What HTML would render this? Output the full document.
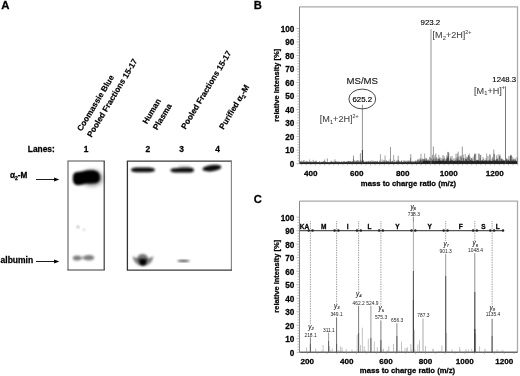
<!DOCTYPE html>
<html><head><meta charset="utf-8"><style>
html,body{margin:0;padding:0;background:#fff;width:520px;height:376px;overflow:hidden}
svg{display:block;font-family:"Liberation Sans", sans-serif;-webkit-font-smoothing:antialiased;will-change:transform}
text{stroke-width:0.08px;paint-order:stroke}
text[font-weight=bold]{stroke-width:0.26px}
</style></head><body>
<svg width="520" height="376" viewBox="0 0 520 376">
<rect width="520" height="376" fill="#fff"/>
<text x="1.30" y="8.80" font-size="11.4" font-weight="bold" text-anchor="start" fill="#000" stroke="#000" >A</text>
<text x="253.80" y="8.90" font-size="11.2" font-weight="bold" text-anchor="start" fill="#000" stroke="#000" >B</text>
<text x="253.70" y="203.00" font-size="11.2" font-weight="bold" text-anchor="start" fill="#000" stroke="#000" >C</text>
<text stroke="#000" style="stroke-width:0.18px" transform="translate(81.50,131.80) rotate(-59)" font-size="8.2" font-weight="bold">Coomassie Blue</text>
<text stroke="#000" style="stroke-width:0.18px" transform="translate(91.50,137.80) rotate(-59)" font-size="8.2" font-weight="bold">Pooled Fractions 15-17</text>
<text stroke="#000" style="stroke-width:0.18px" transform="translate(147.00,124.60) rotate(-59)" font-size="8.2" font-weight="bold">Human</text>
<text stroke="#000" style="stroke-width:0.18px" transform="translate(157.30,130.40) rotate(-59)" font-size="8.2" font-weight="bold">Plasma</text>
<text stroke="#000" style="stroke-width:0.18px" transform="translate(185.50,129.80) rotate(-59)" font-size="8.2" font-weight="bold">Pooled Fractions 15-17</text>
<text stroke="#000" style="stroke-width:0.18px" transform="translate(223.60,130.00) rotate(-59)" font-size="8.2" font-weight="bold">Purified &#945;<tspan font-size="5.5" dy="2">2</tspan><tspan dy="-2">-M</tspan></text>
<text x="27.80" y="151.60" font-size="8.4" font-weight="bold" text-anchor="start" fill="#000" stroke="#000" >Lanes:</text>
<text x="86.00" y="151.60" font-size="8.4" font-weight="bold" text-anchor="middle" fill="#000" stroke="#000" >1</text>
<text x="147.90" y="151.60" font-size="8.4" font-weight="bold" text-anchor="middle" fill="#000" stroke="#000" >2</text>
<text x="181.60" y="151.60" font-size="8.4" font-weight="bold" text-anchor="middle" fill="#000" stroke="#000" >3</text>
<text x="217.70" y="151.60" font-size="8.4" font-weight="bold" text-anchor="middle" fill="#000" stroke="#000" >4</text>
<text stroke="#000" x="10" y="178.4" font-size="8.2" font-weight="bold">&#945;<tspan font-size="5" dy="2">2</tspan><tspan dy="-2">-M</tspan></text>
<text x="0.60" y="263.40" font-size="8.5" font-weight="bold" text-anchor="start" fill="#000" stroke="#000" >albumin</text>
<line x1="36" y1="179.5" x2="55.8" y2="179.5" stroke="#111" stroke-width="0.95"/>
<path d="M54.099999999999994,177.4 L59.3,179.5 L54.099999999999994,181.6 Z" fill="#000"/>
<line x1="36" y1="261.5" x2="55.8" y2="261.5" stroke="#111" stroke-width="0.95"/>
<path d="M54.099999999999994,259.4 L59.3,261.5 L54.099999999999994,263.6 Z" fill="#000"/>
<line x1="67.4" y1="161.0" x2="104.8" y2="161.0" stroke="#888" stroke-width="1.3"/>
<line x1="68.0" y1="161.0" x2="68.0" y2="270.0" stroke="#777" stroke-width="1.3"/>
<line x1="104.2" y1="161.0" x2="104.2" y2="270.0" stroke="#3a3a3a" stroke-width="1.2"/>
<line x1="67.4" y1="270.0" x2="104.8" y2="270.0" stroke="#3a3a3a" stroke-width="1.2"/>
<line x1="126.80000000000001" y1="161.2" x2="232.0" y2="161.2" stroke="#3a3a3a" stroke-width="1.3"/>
<line x1="127.4" y1="161.2" x2="127.4" y2="270.1" stroke="#333" stroke-width="1.3"/>
<line x1="231.4" y1="161.2" x2="231.4" y2="270.1" stroke="#888" stroke-width="1.2"/>
<line x1="126.80000000000001" y1="270.1" x2="232.0" y2="270.1" stroke="#3a3a3a" stroke-width="1.2"/>
<defs>
<filter id="b1" x="-50%" y="-50%" width="200%" height="200%"><feGaussianBlur stdDeviation="1.1"/></filter>
<filter id="b2" x="-50%" y="-50%" width="200%" height="200%"><feGaussianBlur stdDeviation="0.8"/></filter>
<filter id="b3" x="-50%" y="-50%" width="200%" height="200%"><feGaussianBlur stdDeviation="1.3"/></filter>
<filter id="b4" x="-50%" y="-50%" width="200%" height="200%"><feGaussianBlur stdDeviation="2.5"/></filter>
<filter id="b5" x="-50%" y="-50%" width="200%" height="200%"><feGaussianBlur stdDeviation="1.1"/></filter>
</defs>
<g filter="url(#b4)" opacity="0.55"><ellipse cx="92" cy="178" rx="10.5" ry="7.5" fill="#000"/></g>
<g filter="url(#b1)"><path d="M72.8,179 C72.6,175 73.8,172.6 76,172.3 C80,171.9 83.5,171.2 86.5,170.6 C90.5,169.9 94.5,170 97.2,171.6 C99.6,173.2 100.2,176.5 99.8,179 C99.4,181.8 97.5,183 95,183.2 C91.5,183.4 88.5,183.3 86.5,183.6 C83.5,184 81,185.3 78,185.2 C74.5,185 72.9,182.8 72.8,179 Z" fill="#000"/></g>
<g filter="url(#b2)"><circle cx="78" cy="227.1" r="1" fill="#777"/><circle cx="84.1" cy="229.7" r="1" fill="#bbb"/></g>
<g filter="url(#b3)" opacity="0.5"><ellipse cx="77" cy="258" rx="4.2" ry="2.6" fill="#000"/><ellipse cx="88.8" cy="257.7" rx="5.5" ry="2.8" fill="#000"/><rect x="78" y="256.5" width="10" height="2.8" fill="#000" opacity="0.6"/></g>
<g filter="url(#b2)"><path d="M131,170 C131,167.9 135,167.5 142.5,167.6 C150,167.5 155,167.9 155,170 C155,172.1 150,172.3 142.5,172.2 C135,172.3 131,172.1 131,170 Z" fill="#0a0a0a"/><path d="M170.5,170.3 C170.5,168.6 173,168.4 176,168.3 C178,167.6 182,167.4 188,167.5 C192,167.5 194,168.3 194,170 C194,172 192,172.6 188,172.6 L176,172.5 C173,172.4 170.5,172 170.5,170.3 Z" fill="#0a0a0a"/><ellipse cx="211.9" cy="168.1" rx="9.6" ry="3.1" transform="rotate(-7 211.9 168.1)" fill="#0a0a0a"/></g>
<g filter="url(#b3)" opacity="0.15"><rect x="178" y="165" width="12" height="1.6" fill="#000"/></g>
<g filter="url(#b3)"><path d="M132.6,256.2 Q133.8,265.6 143,265.8 Q152.2,265.6 153.4,256.2 Q148,259.5 143,259 Q138,259.5 132.6,256.2 Z" fill="#000" opacity="0.5"/><ellipse cx="142.6" cy="258.6" rx="5.2" ry="4.6" fill="#000" opacity="0.55"/></g>
<g filter="url(#b5)"><ellipse cx="142.9" cy="262.2" rx="3.3" ry="3.2" fill="#000"/></g>
<g filter="url(#b2)"><ellipse cx="183.5" cy="260.9" rx="6.2" ry="0.8" fill="#222"/></g>
<path d="M299.5,6.8 H517.5 V163.6" fill="none" stroke="#aaa" stroke-width="1.3"/>
<line x1="299.5" y1="6.8" x2="299.5" y2="163.6" stroke="#888" stroke-width="1"/>
<line x1="299.5" y1="163.6" x2="517.5" y2="163.6" stroke="#444" stroke-width="1"/>
<line x1="296.5" y1="163.60" x2="299.5" y2="163.60" stroke="#999" stroke-width="0.7"/>
<line x1="297.5" y1="160.90" x2="299.5" y2="160.90" stroke="#999" stroke-width="0.7"/>
<line x1="297.5" y1="158.20" x2="299.5" y2="158.20" stroke="#999" stroke-width="0.7"/>
<line x1="297.5" y1="155.49" x2="299.5" y2="155.49" stroke="#999" stroke-width="0.7"/>
<line x1="297.5" y1="152.79" x2="299.5" y2="152.79" stroke="#999" stroke-width="0.7"/>
<line x1="296.5" y1="150.09" x2="299.5" y2="150.09" stroke="#999" stroke-width="0.7"/>
<line x1="297.5" y1="147.39" x2="299.5" y2="147.39" stroke="#999" stroke-width="0.7"/>
<line x1="297.5" y1="144.69" x2="299.5" y2="144.69" stroke="#999" stroke-width="0.7"/>
<line x1="297.5" y1="141.98" x2="299.5" y2="141.98" stroke="#999" stroke-width="0.7"/>
<line x1="297.5" y1="139.28" x2="299.5" y2="139.28" stroke="#999" stroke-width="0.7"/>
<line x1="296.5" y1="136.58" x2="299.5" y2="136.58" stroke="#999" stroke-width="0.7"/>
<line x1="297.5" y1="133.88" x2="299.5" y2="133.88" stroke="#999" stroke-width="0.7"/>
<line x1="297.5" y1="131.18" x2="299.5" y2="131.18" stroke="#999" stroke-width="0.7"/>
<line x1="297.5" y1="128.47" x2="299.5" y2="128.47" stroke="#999" stroke-width="0.7"/>
<line x1="297.5" y1="125.77" x2="299.5" y2="125.77" stroke="#999" stroke-width="0.7"/>
<line x1="296.5" y1="123.07" x2="299.5" y2="123.07" stroke="#999" stroke-width="0.7"/>
<line x1="297.5" y1="120.37" x2="299.5" y2="120.37" stroke="#999" stroke-width="0.7"/>
<line x1="297.5" y1="117.67" x2="299.5" y2="117.67" stroke="#999" stroke-width="0.7"/>
<line x1="297.5" y1="114.96" x2="299.5" y2="114.96" stroke="#999" stroke-width="0.7"/>
<line x1="297.5" y1="112.26" x2="299.5" y2="112.26" stroke="#999" stroke-width="0.7"/>
<line x1="296.5" y1="109.56" x2="299.5" y2="109.56" stroke="#999" stroke-width="0.7"/>
<line x1="297.5" y1="106.86" x2="299.5" y2="106.86" stroke="#999" stroke-width="0.7"/>
<line x1="297.5" y1="104.16" x2="299.5" y2="104.16" stroke="#999" stroke-width="0.7"/>
<line x1="297.5" y1="101.45" x2="299.5" y2="101.45" stroke="#999" stroke-width="0.7"/>
<line x1="297.5" y1="98.75" x2="299.5" y2="98.75" stroke="#999" stroke-width="0.7"/>
<line x1="296.5" y1="96.05" x2="299.5" y2="96.05" stroke="#999" stroke-width="0.7"/>
<line x1="297.5" y1="93.35" x2="299.5" y2="93.35" stroke="#999" stroke-width="0.7"/>
<line x1="297.5" y1="90.65" x2="299.5" y2="90.65" stroke="#999" stroke-width="0.7"/>
<line x1="297.5" y1="87.94" x2="299.5" y2="87.94" stroke="#999" stroke-width="0.7"/>
<line x1="297.5" y1="85.24" x2="299.5" y2="85.24" stroke="#999" stroke-width="0.7"/>
<line x1="296.5" y1="82.54" x2="299.5" y2="82.54" stroke="#999" stroke-width="0.7"/>
<line x1="297.5" y1="79.84" x2="299.5" y2="79.84" stroke="#999" stroke-width="0.7"/>
<line x1="297.5" y1="77.14" x2="299.5" y2="77.14" stroke="#999" stroke-width="0.7"/>
<line x1="297.5" y1="74.43" x2="299.5" y2="74.43" stroke="#999" stroke-width="0.7"/>
<line x1="297.5" y1="71.73" x2="299.5" y2="71.73" stroke="#999" stroke-width="0.7"/>
<line x1="296.5" y1="69.03" x2="299.5" y2="69.03" stroke="#999" stroke-width="0.7"/>
<line x1="297.5" y1="66.33" x2="299.5" y2="66.33" stroke="#999" stroke-width="0.7"/>
<line x1="297.5" y1="63.63" x2="299.5" y2="63.63" stroke="#999" stroke-width="0.7"/>
<line x1="297.5" y1="60.92" x2="299.5" y2="60.92" stroke="#999" stroke-width="0.7"/>
<line x1="297.5" y1="58.22" x2="299.5" y2="58.22" stroke="#999" stroke-width="0.7"/>
<line x1="296.5" y1="55.52" x2="299.5" y2="55.52" stroke="#999" stroke-width="0.7"/>
<line x1="297.5" y1="52.82" x2="299.5" y2="52.82" stroke="#999" stroke-width="0.7"/>
<line x1="297.5" y1="50.12" x2="299.5" y2="50.12" stroke="#999" stroke-width="0.7"/>
<line x1="297.5" y1="47.41" x2="299.5" y2="47.41" stroke="#999" stroke-width="0.7"/>
<line x1="297.5" y1="44.71" x2="299.5" y2="44.71" stroke="#999" stroke-width="0.7"/>
<line x1="296.5" y1="42.01" x2="299.5" y2="42.01" stroke="#999" stroke-width="0.7"/>
<line x1="297.5" y1="39.31" x2="299.5" y2="39.31" stroke="#999" stroke-width="0.7"/>
<line x1="297.5" y1="36.61" x2="299.5" y2="36.61" stroke="#999" stroke-width="0.7"/>
<line x1="297.5" y1="33.90" x2="299.5" y2="33.90" stroke="#999" stroke-width="0.7"/>
<line x1="297.5" y1="31.20" x2="299.5" y2="31.20" stroke="#999" stroke-width="0.7"/>
<line x1="296.5" y1="28.50" x2="299.5" y2="28.50" stroke="#999" stroke-width="0.7"/>
<text x="294.40" y="166.90" font-size="8.2" font-weight="bold" text-anchor="end" fill="#000" stroke="#000" >0</text>
<text x="294.40" y="153.39" font-size="8.2" font-weight="bold" text-anchor="end" fill="#000" stroke="#000" >10</text>
<text x="294.40" y="139.88" font-size="8.2" font-weight="bold" text-anchor="end" fill="#000" stroke="#000" >20</text>
<text x="294.40" y="126.37" font-size="8.2" font-weight="bold" text-anchor="end" fill="#000" stroke="#000" >30</text>
<text x="294.40" y="112.86" font-size="8.2" font-weight="bold" text-anchor="end" fill="#000" stroke="#000" >40</text>
<text x="294.40" y="99.35" font-size="8.2" font-weight="bold" text-anchor="end" fill="#000" stroke="#000" >50</text>
<text x="294.40" y="85.84" font-size="8.2" font-weight="bold" text-anchor="end" fill="#000" stroke="#000" >60</text>
<text x="294.40" y="72.33" font-size="8.2" font-weight="bold" text-anchor="end" fill="#000" stroke="#000" >70</text>
<text x="294.40" y="58.82" font-size="8.2" font-weight="bold" text-anchor="end" fill="#000" stroke="#000" >80</text>
<text x="294.40" y="45.31" font-size="8.2" font-weight="bold" text-anchor="end" fill="#000" stroke="#000" >90</text>
<text x="294.40" y="31.80" font-size="8.2" font-weight="bold" text-anchor="end" fill="#000" stroke="#000" >100</text>
<line x1="301.60" y1="163.6" x2="301.60" y2="165.4" stroke="#999" stroke-width="0.6"/>
<line x1="306.20" y1="163.6" x2="306.20" y2="165.4" stroke="#999" stroke-width="0.6"/>
<line x1="310.80" y1="163.6" x2="310.80" y2="165.4" stroke="#999" stroke-width="0.6"/>
<line x1="315.40" y1="163.6" x2="315.40" y2="165.4" stroke="#999" stroke-width="0.6"/>
<line x1="320.00" y1="163.6" x2="320.00" y2="165.4" stroke="#999" stroke-width="0.6"/>
<line x1="324.59" y1="163.6" x2="324.59" y2="165.4" stroke="#999" stroke-width="0.6"/>
<line x1="329.19" y1="163.6" x2="329.19" y2="165.4" stroke="#999" stroke-width="0.6"/>
<line x1="333.79" y1="163.6" x2="333.79" y2="165.4" stroke="#999" stroke-width="0.6"/>
<line x1="338.39" y1="163.6" x2="338.39" y2="165.4" stroke="#999" stroke-width="0.6"/>
<line x1="342.99" y1="163.6" x2="342.99" y2="165.4" stroke="#999" stroke-width="0.6"/>
<line x1="347.58" y1="163.6" x2="347.58" y2="165.4" stroke="#999" stroke-width="0.6"/>
<line x1="352.18" y1="163.6" x2="352.18" y2="165.4" stroke="#999" stroke-width="0.6"/>
<line x1="356.78" y1="163.6" x2="356.78" y2="165.4" stroke="#999" stroke-width="0.6"/>
<line x1="361.38" y1="163.6" x2="361.38" y2="165.4" stroke="#999" stroke-width="0.6"/>
<line x1="365.98" y1="163.6" x2="365.98" y2="165.4" stroke="#999" stroke-width="0.6"/>
<line x1="370.57" y1="163.6" x2="370.57" y2="165.4" stroke="#999" stroke-width="0.6"/>
<line x1="375.17" y1="163.6" x2="375.17" y2="165.4" stroke="#999" stroke-width="0.6"/>
<line x1="379.77" y1="163.6" x2="379.77" y2="165.4" stroke="#999" stroke-width="0.6"/>
<line x1="384.37" y1="163.6" x2="384.37" y2="165.4" stroke="#999" stroke-width="0.6"/>
<line x1="388.97" y1="163.6" x2="388.97" y2="165.4" stroke="#999" stroke-width="0.6"/>
<line x1="393.56" y1="163.6" x2="393.56" y2="165.4" stroke="#999" stroke-width="0.6"/>
<line x1="398.16" y1="163.6" x2="398.16" y2="165.4" stroke="#999" stroke-width="0.6"/>
<line x1="402.76" y1="163.6" x2="402.76" y2="165.4" stroke="#999" stroke-width="0.6"/>
<line x1="407.36" y1="163.6" x2="407.36" y2="165.4" stroke="#999" stroke-width="0.6"/>
<line x1="411.96" y1="163.6" x2="411.96" y2="165.4" stroke="#999" stroke-width="0.6"/>
<line x1="416.55" y1="163.6" x2="416.55" y2="165.4" stroke="#999" stroke-width="0.6"/>
<line x1="421.15" y1="163.6" x2="421.15" y2="165.4" stroke="#999" stroke-width="0.6"/>
<line x1="425.75" y1="163.6" x2="425.75" y2="165.4" stroke="#999" stroke-width="0.6"/>
<line x1="430.35" y1="163.6" x2="430.35" y2="165.4" stroke="#999" stroke-width="0.6"/>
<line x1="434.95" y1="163.6" x2="434.95" y2="165.4" stroke="#999" stroke-width="0.6"/>
<line x1="439.54" y1="163.6" x2="439.54" y2="165.4" stroke="#999" stroke-width="0.6"/>
<line x1="444.14" y1="163.6" x2="444.14" y2="165.4" stroke="#999" stroke-width="0.6"/>
<line x1="448.74" y1="163.6" x2="448.74" y2="165.4" stroke="#999" stroke-width="0.6"/>
<line x1="453.34" y1="163.6" x2="453.34" y2="165.4" stroke="#999" stroke-width="0.6"/>
<line x1="457.94" y1="163.6" x2="457.94" y2="165.4" stroke="#999" stroke-width="0.6"/>
<line x1="462.53" y1="163.6" x2="462.53" y2="165.4" stroke="#999" stroke-width="0.6"/>
<line x1="467.13" y1="163.6" x2="467.13" y2="165.4" stroke="#999" stroke-width="0.6"/>
<line x1="471.73" y1="163.6" x2="471.73" y2="165.4" stroke="#999" stroke-width="0.6"/>
<line x1="476.33" y1="163.6" x2="476.33" y2="165.4" stroke="#999" stroke-width="0.6"/>
<line x1="480.93" y1="163.6" x2="480.93" y2="165.4" stroke="#999" stroke-width="0.6"/>
<line x1="485.52" y1="163.6" x2="485.52" y2="165.4" stroke="#999" stroke-width="0.6"/>
<line x1="490.12" y1="163.6" x2="490.12" y2="165.4" stroke="#999" stroke-width="0.6"/>
<line x1="494.72" y1="163.6" x2="494.72" y2="165.4" stroke="#999" stroke-width="0.6"/>
<line x1="499.32" y1="163.6" x2="499.32" y2="165.4" stroke="#999" stroke-width="0.6"/>
<line x1="503.92" y1="163.6" x2="503.92" y2="165.4" stroke="#999" stroke-width="0.6"/>
<line x1="508.51" y1="163.6" x2="508.51" y2="165.4" stroke="#999" stroke-width="0.6"/>
<line x1="513.11" y1="163.6" x2="513.11" y2="165.4" stroke="#999" stroke-width="0.6"/>
<line x1="517.71" y1="163.6" x2="517.71" y2="165.4" stroke="#999" stroke-width="0.6"/>
<text x="310.80" y="176.10" font-size="8.1" font-weight="bold" text-anchor="middle" fill="#000" stroke="#000" >400</text>
<text x="356.78" y="176.10" font-size="8.1" font-weight="bold" text-anchor="middle" fill="#000" stroke="#000" >600</text>
<text x="402.76" y="176.10" font-size="8.1" font-weight="bold" text-anchor="middle" fill="#000" stroke="#000" >800</text>
<text x="448.74" y="176.10" font-size="8.1" font-weight="bold" text-anchor="middle" fill="#000" stroke="#000" >1000</text>
<text x="494.72" y="176.10" font-size="8.1" font-weight="bold" text-anchor="middle" fill="#000" stroke="#000" >1200</text>
<text x="408.50" y="185.50" font-size="7.7" font-weight="bold" text-anchor="middle" fill="#000" stroke="#000" >mass to charge ratio (m/z)</text>
<text stroke="#000" transform="translate(278.6,85.2) rotate(-90)" font-size="7.5" font-weight="bold" text-anchor="middle">relative intensity [%]</text>
<path d="M299.90,163.60V161.79M300.23,163.60V162.51M300.56,163.60V161.07M300.89,163.60V162.17M301.22,163.60V161.97M301.55,163.60V160.56M301.88,163.60V162.43M302.21,163.60V162.70M302.54,163.60V161.18M302.87,163.60V161.76M303.20,163.60V162.58M303.53,163.60V160.36M303.86,163.60V162.46M304.19,163.60V160.20M304.52,163.60V162.26M304.85,163.60V161.79M305.18,163.60V162.19M305.51,163.60V162.52M305.84,163.60V160.93M306.17,163.60V161.96M306.50,163.60V161.18M306.83,163.60V162.52M307.16,163.60V162.00M307.49,163.60V161.33M307.82,163.60V161.27M308.15,163.60V162.37M308.48,163.60V161.80M308.81,163.60V161.97M309.14,163.60V161.96M309.47,163.60V159.51M309.80,163.60V162.37M310.13,163.60V162.23M310.46,163.60V161.74M310.79,163.60V161.65M311.12,163.60V161.23M311.45,163.60V162.13M311.78,163.60V162.20M312.11,163.60V161.91M312.44,163.60V162.28M312.77,163.60V162.27M313.10,163.60V159.80M313.43,163.60V162.30M313.76,163.60V160.89M314.09,163.60V162.12M314.42,163.60V161.83M314.75,163.60V161.74M315.08,163.60V162.07M315.41,163.60V161.20M315.74,163.60V162.31M316.07,163.60V160.45M316.40,163.60V161.34M316.73,163.60V162.22M317.06,163.60V162.66M317.39,163.60V162.11M317.72,163.60V161.94M318.05,163.60V162.06M318.38,163.60V162.03M318.71,163.60V162.52M319.04,163.60V161.97M319.37,163.60V161.43M319.70,163.60V161.16M320.03,163.60V162.73M320.36,163.60V162.58M320.69,163.60V162.44M321.02,163.60V162.36M321.35,163.60V161.56M321.68,163.60V161.97M322.01,163.60V162.39M322.34,163.60V161.63M322.67,163.60V162.50M323.00,163.60V161.82M323.33,163.60V161.81M323.66,163.60V161.43M323.99,163.60V160.75M324.32,163.60V162.54M324.65,163.60V159.46M324.98,163.60V161.22M325.31,163.60V162.65M325.64,163.60V161.74M325.97,163.60V161.99M326.30,163.60V162.38M326.63,163.60V162.14M326.96,163.60V162.35M327.29,163.60V162.50M327.62,163.60V162.44M327.95,163.60V162.15M328.28,163.60V162.20M328.61,163.60V162.67M328.94,163.60V162.44M329.27,163.60V162.19M329.60,163.60V162.06M329.93,163.60V162.51M330.26,163.60V161.89M330.59,163.60V161.60M330.92,163.60V161.80M331.25,163.60V161.70M331.58,163.60V160.61M331.91,163.60V161.82M332.24,163.60V161.80M332.57,163.60V162.26M332.90,163.60V162.15M333.23,163.60V161.04M333.56,163.60V162.33M333.89,163.60V162.38M334.22,163.60V162.41M334.55,163.60V162.08M334.88,163.60V159.27M335.21,163.60V160.85M335.54,163.60V161.32M335.87,163.60V162.06M336.20,163.60V161.53M336.53,163.60V162.47M336.86,163.60V161.23M337.19,163.60V161.68M337.52,163.60V162.25M337.85,163.60V161.81M338.18,163.60V161.95M338.51,163.60V161.55M338.84,163.60V162.29M339.17,163.60V161.53M339.50,163.60V161.70M339.83,163.60V162.58M340.16,163.60V161.90M340.49,163.60V162.14M340.82,163.60V162.23M341.15,163.60V162.32M341.48,163.60V161.76M341.81,163.60V160.95M342.14,163.60V162.07M342.47,163.60V162.55M342.80,163.60V162.31M343.13,163.60V161.51M343.46,163.60V162.37M343.79,163.60V161.14M344.12,163.60V161.51M344.45,163.60V161.58M344.78,163.60V161.55M345.11,163.60V162.14M345.44,163.60V162.11M345.77,163.60V161.58M346.10,163.60V162.15M346.43,163.60V162.10M346.76,163.60V161.00M347.09,163.60V161.99M347.42,163.60V162.51M347.75,163.60V161.39M348.08,163.60V161.13M348.41,163.60V160.89M348.74,163.60V161.27M349.07,163.60V161.75M349.40,163.60V161.78M349.73,163.60V161.33M350.06,163.60V161.31M350.39,163.60V161.13M350.72,163.60V161.97M351.05,163.60V161.48M351.38,163.60V161.54M351.71,163.60V162.10M352.04,163.60V161.96M352.37,163.60V161.36M352.70,163.60V161.11M353.03,163.60V161.87M353.36,163.60V159.16M353.69,163.60V161.67M354.02,163.60V161.97M354.35,163.60V161.61M354.68,163.60V160.12M355.01,163.60V161.87M355.34,163.60V161.84M355.67,163.60V161.27M356.00,163.60V161.53M356.33,163.60V161.57M356.66,163.60V160.66M356.99,163.60V160.78M357.32,163.60V162.01M357.65,163.60V159.99M357.98,163.60V162.31M358.31,163.60V160.51M358.64,163.60V161.75M358.97,163.60V161.56M359.30,163.60V160.76M359.63,163.60V162.13M359.96,163.60V162.23M360.29,163.60V161.78M360.62,163.60V159.82M360.95,163.60V162.11M361.28,163.60V161.98M361.61,163.60V161.12M361.94,163.60V160.77M362.27,163.60V161.03M362.60,163.60V161.89M362.93,163.60V161.74M363.26,163.60V160.10M363.59,163.60V160.66M363.92,163.60V161.75M364.25,163.60V161.75M364.58,163.60V162.05M364.91,163.60V161.92M365.24,163.60V162.26M365.57,163.60V162.06M365.90,163.60V160.96M366.23,163.60V161.87M366.56,163.60V161.48M366.89,163.60V161.81M367.22,163.60V161.56M367.55,163.60V161.78M367.88,163.60V161.65M368.21,163.60V161.78M368.54,163.60V161.53M368.87,163.60V160.81M369.20,163.60V161.34M369.53,163.60V161.98M369.86,163.60V162.19M370.19,163.60V161.74M370.52,163.60V160.90M370.85,163.60V161.48M371.18,163.60V162.28M371.51,163.60V162.15M371.84,163.60V160.16M372.17,163.60V161.96M372.50,163.60V162.16M372.83,163.60V161.24M373.16,163.60V160.67M373.49,163.60V162.07M373.82,163.60V161.70M374.15,163.60V161.41M374.48,163.60V161.37M374.81,163.60V162.02M375.14,163.60V161.36M375.47,163.60V161.42M375.80,163.60V161.33M376.13,163.60V162.08M376.46,163.60V161.63M376.79,163.60V161.47M377.12,163.60V161.28M377.45,163.60V160.93M377.78,163.60V162.07M378.11,163.60V161.72M378.44,163.60V162.33M378.77,163.60V162.05M379.10,163.60V162.29M379.43,163.60V160.59M379.76,163.60V161.58M380.09,163.60V161.90M380.42,163.60V154.22M380.75,163.60V161.46M381.08,163.60V161.97M381.41,163.60V162.28M381.74,163.60V161.66M382.07,163.60V159.34M382.40,163.60V161.82M382.73,163.60V161.48M383.06,163.60V161.70M383.39,163.60V162.06M383.72,163.60V160.15M384.05,163.60V161.65M384.38,163.60V160.56M384.71,163.60V161.83M385.04,163.60V155.46M385.37,163.60V162.03M385.70,163.60V161.86M386.03,163.60V160.77M386.36,163.60V160.35M386.69,163.60V161.64M387.02,163.60V161.24M387.35,163.60V161.31M387.68,163.60V161.36M388.01,163.60V162.19M388.34,163.60V160.73M388.67,163.60V161.39M389.00,163.60V161.87M389.33,163.60V161.75M389.66,163.60V161.82M389.99,163.60V159.15M390.32,163.60V162.02M390.65,163.60V161.95M390.98,163.60V160.98M391.31,163.60V161.94M391.64,163.60V162.10M391.97,163.60V161.26M392.30,163.60V160.81M392.63,163.60V160.91M392.96,163.60V162.11M393.29,163.60V162.08M393.62,163.60V154.96M393.95,163.60V162.15M394.28,163.60V162.11M394.61,163.60V159.90M394.94,163.60V162.27M395.27,163.60V162.46M395.60,163.60V162.31M395.93,163.60V161.49M396.26,163.60V161.04M396.59,163.60V161.96M396.92,163.60V160.33M397.25,163.60V161.53M397.58,163.60V160.70M397.91,163.60V161.87M398.24,163.60V162.00M398.57,163.60V160.02M398.90,163.60V160.90M399.23,163.60V161.74M399.56,163.60V161.16M399.89,163.60V162.05M400.22,163.60V162.29M400.55,163.60V162.05M400.88,163.60V160.99M401.21,163.60V161.56M401.54,163.60V160.94M401.87,163.60V160.19M402.20,163.60V161.92M402.53,163.60V162.27M402.86,163.60V162.01M403.19,163.60V162.04M403.52,163.60V160.57M403.85,163.60V161.81M404.18,163.60V161.68M404.51,163.60V161.53M404.84,163.60V160.22M405.17,163.60V161.07M405.50,163.60V161.81M405.83,163.60V161.65M406.16,163.60V161.64M406.49,163.60V162.21M406.82,163.60V160.70M407.15,163.60V160.64M407.48,163.60V161.40M407.81,163.60V162.08M408.14,163.60V162.10M408.47,163.60V160.41M408.80,163.60V161.60M409.13,163.60V160.95M409.46,163.60V161.98M409.79,163.60V160.56M410.12,163.60V161.23M410.45,163.60V157.90M410.78,163.60V161.76M411.11,163.60V162.28M411.44,163.60V161.34M411.77,163.60V162.15M412.10,163.60V160.85M412.43,163.60V162.25M412.76,163.60V161.52M413.09,163.60V161.73M413.42,163.60V161.31M413.75,163.60V162.32M414.08,163.60V161.86M414.41,163.60V161.55M414.74,163.60V161.61M415.07,163.60V161.29M415.40,163.60V160.52M415.73,163.60V161.36M416.06,163.60V161.35M416.39,163.60V160.70M416.72,163.60V162.03M417.05,163.60V161.80M417.38,163.60V160.08M417.71,163.60V159.22M418.04,163.60V161.74M418.37,163.60V161.55M418.70,163.60V159.30M419.03,163.60V159.65M419.36,163.60V161.05M419.69,163.60V161.10M420.02,163.60V158.09M420.35,163.60V159.76M420.68,163.60V159.34M421.01,163.60V153.60M421.34,163.60V161.25M421.67,163.60V159.47M422.00,163.60V161.22M422.33,163.60V158.25M422.66,163.60V160.22M422.99,163.60V159.11M423.32,163.60V161.18M423.65,163.60V159.16M423.98,163.60V159.23M424.31,163.60V159.17M424.64,163.60V153.60M424.97,163.60V160.30M425.30,163.60V160.31M425.63,163.60V158.26M425.96,163.60V160.87M426.29,163.60V157.85M426.62,163.60V159.13M426.95,163.60V159.68M427.28,163.60V160.67M427.61,163.60V160.57M427.94,163.60V160.38M428.27,163.60V159.10M428.60,163.60V160.91M428.93,163.60V160.03M429.26,163.60V160.77M429.59,163.60V156.85M429.92,163.60V160.99M430.25,163.60V160.98M430.58,163.60V157.90M430.91,163.60V159.35M431.24,163.60V157.70M431.57,163.60V161.23M431.90,163.60V161.05M432.23,163.60V159.68M432.56,163.60V154.73M432.89,163.60V160.06M433.22,163.60V161.31M433.55,163.60V159.13M433.88,163.60V161.72M434.21,163.60V157.78M434.54,163.60V160.70M434.87,163.60V155.34M435.20,163.60V161.26M435.53,163.60V160.79M435.86,163.60V159.26M436.19,163.60V157.88M436.52,163.60V161.08M436.85,163.60V157.19M437.18,163.60V160.64M437.51,163.60V160.67M437.84,163.60V158.71M438.17,163.60V160.87M438.50,163.60V158.72M438.83,163.60V154.78M439.16,163.60V159.21M439.49,163.60V159.41M439.82,163.60V157.25M440.15,163.60V158.12M440.48,163.60V160.68M440.81,163.60V160.02M441.14,163.60V160.68M441.47,163.60V160.66M441.80,163.60V157.77M442.13,163.60V160.79M442.46,163.60V160.81M442.79,163.60V159.39M443.12,163.60V159.81M443.45,163.60V159.11M443.78,163.60V159.44M444.11,163.60V156.08M444.44,163.60V161.21M444.77,163.60V157.95M445.10,163.60V161.13M445.43,163.60V159.94M445.76,163.60V161.48M446.09,163.60V159.25M446.42,163.60V159.09M446.75,163.60V155.35M447.08,163.60V157.78M447.41,163.60V157.33M447.74,163.60V159.88M448.07,163.60V156.56M448.40,163.60V157.93M448.73,163.60V153.60M449.06,163.60V161.01M449.39,163.60V160.80M449.72,163.60V161.55M450.05,163.60V159.74M450.38,163.60V158.36M450.71,163.60V156.48M451.04,163.60V160.03M451.37,163.60V159.09M451.70,163.60V160.51M452.03,163.60V160.98M452.36,163.60V159.92M452.69,163.60V160.04M453.02,163.60V160.82M453.35,163.60V161.32M453.68,163.60V158.32M454.01,163.60V160.92M454.34,163.60V160.85M454.67,163.60V160.67M455.00,163.60V158.25M455.33,163.60V159.98M455.66,163.60V161.59M455.99,163.60V153.60M456.32,163.60V160.56M456.65,163.60V157.81M456.98,163.60V160.80M457.31,163.60V153.60M457.64,163.60V158.89M457.97,163.60V160.12M458.30,163.60V156.83M458.63,163.60V161.30M458.96,163.60V160.00M459.29,163.60V159.77M459.62,163.60V160.75M459.95,163.60V156.44M460.28,163.60V155.62M460.61,163.60V160.27M460.94,163.60V160.96M461.27,163.60V157.69M461.60,163.60V155.80M461.93,163.60V160.92M462.26,163.60V160.59M462.59,163.60V161.54M462.92,163.60V160.51M463.25,163.60V154.69M463.58,163.60V157.98M463.91,163.60V158.14M464.24,163.60V160.50M464.57,163.60V161.55M464.90,163.60V160.33M465.23,163.60V154.09M465.56,163.60V158.53M465.89,163.60V158.72M466.22,163.60V159.18M466.55,163.60V159.73M466.88,163.60V157.31M467.21,163.60V156.27M467.54,163.60V160.75M467.87,163.60V157.51M468.20,163.60V161.08M468.53,163.60V155.45M468.86,163.60V154.95M469.19,163.60V153.60M469.52,163.60V161.32M469.85,163.60V158.34M470.18,163.60V159.87M470.51,163.60V160.12M470.84,163.60V159.79M471.17,163.60V160.54M471.50,163.60V158.06M471.83,163.60V158.10M472.16,163.60V160.58M472.49,163.60V160.65M472.82,163.60V159.18M473.15,163.60V156.59M473.48,163.60V161.00M473.81,163.60V161.20M474.14,163.60V161.45M474.47,163.60V154.34M474.80,163.60V153.60M475.13,163.60V161.23M475.46,163.60V160.64M475.79,163.60V153.60M476.12,163.60V160.25M476.45,163.60V160.52M476.78,163.60V160.41M477.11,163.60V159.67M477.44,163.60V160.00M477.77,163.60V159.96M478.10,163.60V160.10M478.43,163.60V153.60M478.76,163.60V160.36M479.09,163.60V160.82M479.42,163.60V153.60M479.75,163.60V161.67M480.08,163.60V158.65M480.41,163.60V160.82M480.74,163.60V154.89M481.07,163.60V160.58M481.40,163.60V160.74M481.73,163.60V160.46M482.06,163.60V160.63M482.39,163.60V160.26M482.72,163.60V159.57M483.05,163.60V157.02M483.38,163.60V160.97M483.71,163.60V158.88M484.04,163.60V160.88M484.37,163.60V161.20M484.70,163.60V159.98M485.03,163.60V160.35M485.36,163.60V160.34M485.69,163.60V160.32M486.02,163.60V158.13M486.35,163.60V160.84M486.68,163.60V153.60M487.01,163.60V160.28M487.34,163.60V160.78M487.67,163.60V161.67M488.00,163.60V160.31M488.33,163.60V161.22M488.66,163.60V160.49M488.99,163.60V160.36M489.32,163.60V160.41M489.65,163.60V154.17M489.98,163.60V159.39M490.31,163.60V154.78M490.64,163.60V160.69M490.97,163.60V160.81M491.30,163.60V160.65M491.63,163.60V160.84M491.96,163.60V158.40M492.29,163.60V160.88M492.62,163.60V156.97M492.95,163.60V159.26M493.28,163.60V161.45M493.61,163.60V160.14M493.94,163.60V153.60M494.27,163.60V159.95M494.60,163.60V154.36M494.93,163.60V160.46M495.26,163.60V159.78M495.59,163.60V160.94M495.92,163.60V160.26M496.25,163.60V159.43M496.58,163.60V155.43M496.91,163.60V158.99M497.24,163.60V158.82M497.57,163.60V159.95M497.90,163.60V157.90M498.23,163.60V154.24M498.56,163.60V161.20M498.89,163.60V160.24M499.22,163.60V161.13M499.55,163.60V155.71M499.88,163.60V154.33M500.21,163.60V160.77M500.54,163.60V161.32M500.87,163.60V159.45M501.20,163.60V157.87M501.53,163.60V158.80M501.86,163.60V160.00M502.19,163.60V160.94M502.52,163.60V159.35M502.85,163.60V159.24M503.18,163.60V161.11M503.51,163.60V159.85M503.84,163.60V160.32M504.17,163.60V160.56M504.50,163.60V160.76M504.83,163.60V160.41M505.16,163.60V160.33M505.49,163.60V160.67M505.82,163.60V160.18M506.15,163.60V159.68M506.48,163.60V159.19M506.81,163.60V157.92M507.14,163.60V159.00M507.47,163.60V161.32M507.80,163.60V160.24M508.13,163.60V159.75M508.46,163.60V159.90M508.79,163.60V156.16M509.12,163.60V159.60M509.45,163.60V161.15M509.78,163.60V161.36M510.11,163.60V155.79M510.44,163.60V155.98M510.77,163.60V159.46M511.10,163.60V155.70M511.43,163.60V155.31M511.76,163.60V160.86M512.09,163.60V160.84M512.42,163.60V159.91M512.75,163.60V156.88M513.08,163.60V158.81M513.41,163.60V160.52M513.74,163.60V158.97M514.07,163.60V160.18M514.40,163.60V161.29M514.73,163.60V159.50M515.06,163.60V157.99M515.39,163.60V159.56M515.72,163.60V159.83M516.05,163.60V161.18M516.38,163.60V161.28M516.71,163.60V161.23M517.04,163.60V157.34" fill="none" stroke="#000" stroke-width="0.42" stroke-opacity="0.85"/>
<line x1="300" y1="163.0" x2="517" y2="163.0" stroke="#222" stroke-width="1.1"/>
<line x1="423" y1="162.0" x2="517" y2="162.0" stroke="#111" stroke-width="1.4" stroke-opacity="0.8"/>
<line x1="327.3" y1="163.6" x2="327.3" y2="158.4" stroke="#333" stroke-width="0.5"/>
<line x1="353.5" y1="163.6" x2="353.5" y2="155.5" stroke="#333" stroke-width="0.5"/>
<line x1="360.4" y1="163.6" x2="360.4" y2="153.2" stroke="#333" stroke-width="0.5"/>
<line x1="390.5" y1="163.6" x2="390.5" y2="147" stroke="#333" stroke-width="0.5"/>
<line x1="398.2" y1="163.6" x2="398.2" y2="155.8" stroke="#333" stroke-width="0.5"/>
<line x1="410.8" y1="163.6" x2="410.8" y2="154.2" stroke="#333" stroke-width="0.5"/>
<line x1="433.4" y1="163.6" x2="433.4" y2="146.5" stroke="#333" stroke-width="0.5"/>
<line x1="435.8" y1="163.6" x2="435.8" y2="153.5" stroke="#333" stroke-width="0.5"/>
<line x1="447.7" y1="163.6" x2="447.7" y2="151.9" stroke="#333" stroke-width="0.5"/>
<line x1="448.6" y1="163.6" x2="448.6" y2="152" stroke="#333" stroke-width="0.5"/>
<line x1="458.2" y1="163.6" x2="458.2" y2="151.6" stroke="#333" stroke-width="0.5"/>
<line x1="462.3" y1="163.6" x2="462.3" y2="146.5" stroke="#333" stroke-width="0.5"/>
<line x1="475" y1="163.6" x2="475" y2="154.2" stroke="#333" stroke-width="0.5"/>
<line x1="480.3" y1="163.6" x2="480.3" y2="155" stroke="#333" stroke-width="0.5"/>
<line x1="493.8" y1="163.6" x2="493.8" y2="149.6" stroke="#333" stroke-width="0.5"/>
<line x1="510.8" y1="163.6" x2="510.8" y2="154.7" stroke="#333" stroke-width="0.5"/>
<line x1="443" y1="163.6" x2="443" y2="155" stroke="#333" stroke-width="0.5"/>
<line x1="452" y1="163.6" x2="452" y2="156" stroke="#333" stroke-width="0.5"/>
<line x1="470" y1="163.6" x2="470" y2="156.5" stroke="#333" stroke-width="0.5"/>
<line x1="488" y1="163.6" x2="488" y2="156" stroke="#333" stroke-width="0.5"/>
<line x1="500" y1="163.6" x2="500" y2="156" stroke="#333" stroke-width="0.5"/>
<line x1="362.4" y1="163.6" x2="362.4" y2="104.7" stroke="#777" stroke-width="0.8"/>
<line x1="431.0" y1="163.6" x2="431.0" y2="29.2" stroke="#777" stroke-width="0.8"/>
<line x1="505.5" y1="163.6" x2="505.5" y2="86.4" stroke="#555" stroke-width="0.8"/>
<line x1="362.4" y1="163.6" x2="362.4" y2="150" stroke="#222" stroke-width="0.8"/>
<text x="420.50" y="24.50" font-size="7.9" text-anchor="start" fill="#000" stroke="#000" style="stroke-width:0.12px">923.2</text>
<text x="432.6" y="38.2" font-size="9.1" fill="#444" stroke="#444">[M<tspan font-size="5.7" dy="1.8">2</tspan><tspan dy="-1.8">+2H]</tspan><tspan font-size="5.3" dy="-4.4">2+</tspan></text>
<text x="492.30" y="81.90" font-size="7.8" text-anchor="start" fill="#000" stroke="#000" style="stroke-width:0.12px">1248.3</text>
<text x="474.1" y="93.6" font-size="9.1" fill="#444" stroke="#444">[M<tspan font-size="5.7" dy="1.8">1</tspan><tspan dy="-1.8">+H]</tspan><tspan font-size="5.3" dy="-4.4">+</tspan></text>
<text x="319.8" y="122.2" font-size="9.1" fill="#444" stroke="#444">[M<tspan font-size="5.7" dy="1.8">1</tspan><tspan dy="-1.8">+2H]</tspan><tspan font-size="5.3" dy="-4.4">2+</tspan></text>
<text x="362.30" y="84.20" font-size="9.6" text-anchor="middle" fill="#222" stroke="#222" style="stroke-width:0.15px">MS/MS</text>
<ellipse cx="362.3" cy="99" rx="13.4" ry="9.9" fill="none" stroke="#333" stroke-width="0.9"/>
<text x="362.30" y="102.00" font-size="7.8" text-anchor="middle" fill="#000" stroke="#000" style="stroke-width:0.18px">625.2</text>
<path d="M299.5,201.1 H517.5 V352.3" fill="none" stroke="#aaa" stroke-width="1.3"/>
<line x1="299.5" y1="201.1" x2="299.5" y2="352.3" stroke="#888" stroke-width="1"/>
<line x1="299.5" y1="352.3" x2="517.5" y2="352.3" stroke="#444" stroke-width="1"/>
<line x1="296.5" y1="352.30" x2="299.5" y2="352.30" stroke="#999" stroke-width="0.7"/>
<line x1="297.5" y1="349.60" x2="299.5" y2="349.60" stroke="#999" stroke-width="0.7"/>
<line x1="297.5" y1="346.90" x2="299.5" y2="346.90" stroke="#999" stroke-width="0.7"/>
<line x1="297.5" y1="344.19" x2="299.5" y2="344.19" stroke="#999" stroke-width="0.7"/>
<line x1="297.5" y1="341.49" x2="299.5" y2="341.49" stroke="#999" stroke-width="0.7"/>
<line x1="296.5" y1="338.79" x2="299.5" y2="338.79" stroke="#999" stroke-width="0.7"/>
<line x1="297.5" y1="336.09" x2="299.5" y2="336.09" stroke="#999" stroke-width="0.7"/>
<line x1="297.5" y1="333.39" x2="299.5" y2="333.39" stroke="#999" stroke-width="0.7"/>
<line x1="297.5" y1="330.68" x2="299.5" y2="330.68" stroke="#999" stroke-width="0.7"/>
<line x1="297.5" y1="327.98" x2="299.5" y2="327.98" stroke="#999" stroke-width="0.7"/>
<line x1="296.5" y1="325.28" x2="299.5" y2="325.28" stroke="#999" stroke-width="0.7"/>
<line x1="297.5" y1="322.58" x2="299.5" y2="322.58" stroke="#999" stroke-width="0.7"/>
<line x1="297.5" y1="319.88" x2="299.5" y2="319.88" stroke="#999" stroke-width="0.7"/>
<line x1="297.5" y1="317.17" x2="299.5" y2="317.17" stroke="#999" stroke-width="0.7"/>
<line x1="297.5" y1="314.47" x2="299.5" y2="314.47" stroke="#999" stroke-width="0.7"/>
<line x1="296.5" y1="311.77" x2="299.5" y2="311.77" stroke="#999" stroke-width="0.7"/>
<line x1="297.5" y1="309.07" x2="299.5" y2="309.07" stroke="#999" stroke-width="0.7"/>
<line x1="297.5" y1="306.37" x2="299.5" y2="306.37" stroke="#999" stroke-width="0.7"/>
<line x1="297.5" y1="303.66" x2="299.5" y2="303.66" stroke="#999" stroke-width="0.7"/>
<line x1="297.5" y1="300.96" x2="299.5" y2="300.96" stroke="#999" stroke-width="0.7"/>
<line x1="296.5" y1="298.26" x2="299.5" y2="298.26" stroke="#999" stroke-width="0.7"/>
<line x1="297.5" y1="295.56" x2="299.5" y2="295.56" stroke="#999" stroke-width="0.7"/>
<line x1="297.5" y1="292.86" x2="299.5" y2="292.86" stroke="#999" stroke-width="0.7"/>
<line x1="297.5" y1="290.15" x2="299.5" y2="290.15" stroke="#999" stroke-width="0.7"/>
<line x1="297.5" y1="287.45" x2="299.5" y2="287.45" stroke="#999" stroke-width="0.7"/>
<line x1="296.5" y1="284.75" x2="299.5" y2="284.75" stroke="#999" stroke-width="0.7"/>
<line x1="297.5" y1="282.05" x2="299.5" y2="282.05" stroke="#999" stroke-width="0.7"/>
<line x1="297.5" y1="279.35" x2="299.5" y2="279.35" stroke="#999" stroke-width="0.7"/>
<line x1="297.5" y1="276.64" x2="299.5" y2="276.64" stroke="#999" stroke-width="0.7"/>
<line x1="297.5" y1="273.94" x2="299.5" y2="273.94" stroke="#999" stroke-width="0.7"/>
<line x1="296.5" y1="271.24" x2="299.5" y2="271.24" stroke="#999" stroke-width="0.7"/>
<line x1="297.5" y1="268.54" x2="299.5" y2="268.54" stroke="#999" stroke-width="0.7"/>
<line x1="297.5" y1="265.84" x2="299.5" y2="265.84" stroke="#999" stroke-width="0.7"/>
<line x1="297.5" y1="263.13" x2="299.5" y2="263.13" stroke="#999" stroke-width="0.7"/>
<line x1="297.5" y1="260.43" x2="299.5" y2="260.43" stroke="#999" stroke-width="0.7"/>
<line x1="296.5" y1="257.73" x2="299.5" y2="257.73" stroke="#999" stroke-width="0.7"/>
<line x1="297.5" y1="255.03" x2="299.5" y2="255.03" stroke="#999" stroke-width="0.7"/>
<line x1="297.5" y1="252.33" x2="299.5" y2="252.33" stroke="#999" stroke-width="0.7"/>
<line x1="297.5" y1="249.62" x2="299.5" y2="249.62" stroke="#999" stroke-width="0.7"/>
<line x1="297.5" y1="246.92" x2="299.5" y2="246.92" stroke="#999" stroke-width="0.7"/>
<line x1="296.5" y1="244.22" x2="299.5" y2="244.22" stroke="#999" stroke-width="0.7"/>
<line x1="297.5" y1="241.52" x2="299.5" y2="241.52" stroke="#999" stroke-width="0.7"/>
<line x1="297.5" y1="238.82" x2="299.5" y2="238.82" stroke="#999" stroke-width="0.7"/>
<line x1="297.5" y1="236.11" x2="299.5" y2="236.11" stroke="#999" stroke-width="0.7"/>
<line x1="297.5" y1="233.41" x2="299.5" y2="233.41" stroke="#999" stroke-width="0.7"/>
<line x1="296.5" y1="230.71" x2="299.5" y2="230.71" stroke="#999" stroke-width="0.7"/>
<line x1="297.5" y1="228.01" x2="299.5" y2="228.01" stroke="#999" stroke-width="0.7"/>
<line x1="297.5" y1="225.31" x2="299.5" y2="225.31" stroke="#999" stroke-width="0.7"/>
<line x1="297.5" y1="222.60" x2="299.5" y2="222.60" stroke="#999" stroke-width="0.7"/>
<line x1="297.5" y1="219.90" x2="299.5" y2="219.90" stroke="#999" stroke-width="0.7"/>
<line x1="296.5" y1="217.20" x2="299.5" y2="217.20" stroke="#999" stroke-width="0.7"/>
<text x="294.40" y="355.60" font-size="8.2" font-weight="bold" text-anchor="end" fill="#000" stroke="#000" >0</text>
<text x="294.40" y="342.09" font-size="8.2" font-weight="bold" text-anchor="end" fill="#000" stroke="#000" >10</text>
<text x="294.40" y="328.58" font-size="8.2" font-weight="bold" text-anchor="end" fill="#000" stroke="#000" >20</text>
<text x="294.40" y="315.07" font-size="8.2" font-weight="bold" text-anchor="end" fill="#000" stroke="#000" >30</text>
<text x="294.40" y="301.56" font-size="8.2" font-weight="bold" text-anchor="end" fill="#000" stroke="#000" >40</text>
<text x="294.40" y="288.05" font-size="8.2" font-weight="bold" text-anchor="end" fill="#000" stroke="#000" >50</text>
<text x="294.40" y="274.54" font-size="8.2" font-weight="bold" text-anchor="end" fill="#000" stroke="#000" >60</text>
<text x="294.40" y="261.03" font-size="8.2" font-weight="bold" text-anchor="end" fill="#000" stroke="#000" >70</text>
<text x="294.40" y="247.52" font-size="8.2" font-weight="bold" text-anchor="end" fill="#000" stroke="#000" >80</text>
<text x="294.40" y="234.01" font-size="8.2" font-weight="bold" text-anchor="end" fill="#000" stroke="#000" >90</text>
<text x="294.40" y="220.50" font-size="8.2" font-weight="bold" text-anchor="end" fill="#000" stroke="#000" >100</text>
<line x1="307.30" y1="352.3" x2="307.30" y2="354.1" stroke="#999" stroke-width="0.6"/>
<line x1="317.14" y1="352.3" x2="317.14" y2="354.1" stroke="#999" stroke-width="0.6"/>
<line x1="326.99" y1="352.3" x2="326.99" y2="354.1" stroke="#999" stroke-width="0.6"/>
<line x1="336.84" y1="352.3" x2="336.84" y2="354.1" stroke="#999" stroke-width="0.6"/>
<line x1="346.68" y1="352.3" x2="346.68" y2="354.1" stroke="#999" stroke-width="0.6"/>
<line x1="356.53" y1="352.3" x2="356.53" y2="354.1" stroke="#999" stroke-width="0.6"/>
<line x1="366.37" y1="352.3" x2="366.37" y2="354.1" stroke="#999" stroke-width="0.6"/>
<line x1="376.22" y1="352.3" x2="376.22" y2="354.1" stroke="#999" stroke-width="0.6"/>
<line x1="386.06" y1="352.3" x2="386.06" y2="354.1" stroke="#999" stroke-width="0.6"/>
<line x1="395.90" y1="352.3" x2="395.90" y2="354.1" stroke="#999" stroke-width="0.6"/>
<line x1="405.75" y1="352.3" x2="405.75" y2="354.1" stroke="#999" stroke-width="0.6"/>
<line x1="415.60" y1="352.3" x2="415.60" y2="354.1" stroke="#999" stroke-width="0.6"/>
<line x1="425.44" y1="352.3" x2="425.44" y2="354.1" stroke="#999" stroke-width="0.6"/>
<line x1="435.29" y1="352.3" x2="435.29" y2="354.1" stroke="#999" stroke-width="0.6"/>
<line x1="445.13" y1="352.3" x2="445.13" y2="354.1" stroke="#999" stroke-width="0.6"/>
<line x1="454.98" y1="352.3" x2="454.98" y2="354.1" stroke="#999" stroke-width="0.6"/>
<line x1="464.82" y1="352.3" x2="464.82" y2="354.1" stroke="#999" stroke-width="0.6"/>
<line x1="474.66" y1="352.3" x2="474.66" y2="354.1" stroke="#999" stroke-width="0.6"/>
<line x1="484.51" y1="352.3" x2="484.51" y2="354.1" stroke="#999" stroke-width="0.6"/>
<line x1="494.36" y1="352.3" x2="494.36" y2="354.1" stroke="#999" stroke-width="0.6"/>
<line x1="504.20" y1="352.3" x2="504.20" y2="354.1" stroke="#999" stroke-width="0.6"/>
<line x1="514.05" y1="352.3" x2="514.05" y2="354.1" stroke="#999" stroke-width="0.6"/>
<text x="307.30" y="364.30" font-size="8.1" font-weight="bold" text-anchor="middle" fill="#000" stroke="#000" >200</text>
<text x="346.68" y="364.30" font-size="8.1" font-weight="bold" text-anchor="middle" fill="#000" stroke="#000" >400</text>
<text x="386.06" y="364.30" font-size="8.1" font-weight="bold" text-anchor="middle" fill="#000" stroke="#000" >600</text>
<text x="425.44" y="364.30" font-size="8.1" font-weight="bold" text-anchor="middle" fill="#000" stroke="#000" >800</text>
<text x="464.82" y="364.30" font-size="8.1" font-weight="bold" text-anchor="middle" fill="#000" stroke="#000" >1000</text>
<text x="504.20" y="364.30" font-size="8.1" font-weight="bold" text-anchor="middle" fill="#000" stroke="#000" >1200</text>
<text x="407.50" y="373.10" font-size="7.7" font-weight="bold" text-anchor="middle" fill="#000" stroke="#000" >mass to charge ratio (m/z)</text>
<text stroke="#000" transform="translate(278.6,276.2) rotate(-90)" font-size="7.5" font-weight="bold" text-anchor="middle">relative intensity [%]</text>
<line x1="306.6" y1="352.3" x2="306.6" y2="347.3" stroke="#aaa" stroke-width="0.7"/>
<line x1="315.7" y1="352.3" x2="315.7" y2="348.5" stroke="#aaa" stroke-width="0.7"/>
<line x1="323.1" y1="352.3" x2="323.1" y2="345" stroke="#aaa" stroke-width="0.7"/>
<line x1="329.6" y1="352.3" x2="329.6" y2="346.2" stroke="#aaa" stroke-width="0.7"/>
<line x1="332.3" y1="352.3" x2="332.3" y2="348.5" stroke="#aaa" stroke-width="0.7"/>
<line x1="340.4" y1="352.3" x2="340.4" y2="346.2" stroke="#aaa" stroke-width="0.7"/>
<line x1="342.0" y1="352.3" x2="342.0" y2="347.3" stroke="#aaa" stroke-width="0.7"/>
<line x1="346.2" y1="352.3" x2="346.2" y2="348.9" stroke="#aaa" stroke-width="0.7"/>
<line x1="352.0" y1="352.3" x2="352.0" y2="349.6" stroke="#aaa" stroke-width="0.7"/>
<line x1="357.2" y1="352.3" x2="357.2" y2="334.6" stroke="#aaa" stroke-width="0.7"/>
<line x1="360.5" y1="352.3" x2="360.5" y2="345" stroke="#aaa" stroke-width="0.7"/>
<line x1="362.4" y1="352.3" x2="362.4" y2="327.7" stroke="#aaa" stroke-width="0.7"/>
<line x1="364.2" y1="352.3" x2="364.2" y2="346.2" stroke="#aaa" stroke-width="0.7"/>
<line x1="368.3" y1="352.3" x2="368.3" y2="338.8" stroke="#aaa" stroke-width="0.7"/>
<line x1="374.3" y1="352.3" x2="374.3" y2="341.5" stroke="#aaa" stroke-width="0.7"/>
<line x1="377.3" y1="352.3" x2="377.3" y2="347.3" stroke="#aaa" stroke-width="0.7"/>
<line x1="383.1" y1="352.3" x2="383.1" y2="348.5" stroke="#aaa" stroke-width="0.7"/>
<line x1="388.8" y1="352.3" x2="388.8" y2="346.2" stroke="#aaa" stroke-width="0.7"/>
<line x1="393.5" y1="352.3" x2="393.5" y2="343.9" stroke="#aaa" stroke-width="0.7"/>
<line x1="401.5" y1="352.3" x2="401.5" y2="341.5" stroke="#aaa" stroke-width="0.7"/>
<line x1="407.3" y1="352.3" x2="407.3" y2="347.3" stroke="#aaa" stroke-width="0.7"/>
<line x1="410.8" y1="352.3" x2="410.8" y2="343.9" stroke="#aaa" stroke-width="0.7"/>
<line x1="417.8" y1="352.3" x2="417.8" y2="344.5" stroke="#aaa" stroke-width="0.7"/>
<line x1="419.5" y1="352.3" x2="419.5" y2="340.2" stroke="#aaa" stroke-width="0.7"/>
<line x1="441.9" y1="352.3" x2="441.9" y2="345.4" stroke="#aaa" stroke-width="0.7"/>
<line x1="459.7" y1="352.3" x2="459.7" y2="347" stroke="#aaa" stroke-width="0.7"/>
<line x1="471.7" y1="352.3" x2="471.7" y2="348.7" stroke="#aaa" stroke-width="0.7"/>
<line x1="479.6" y1="352.3" x2="479.6" y2="346.3" stroke="#aaa" stroke-width="0.7"/>
<line x1="484.9" y1="352.3" x2="484.9" y2="348.7" stroke="#aaa" stroke-width="0.7"/>
<line x1="414.3" y1="352.3" x2="414.3" y2="330" stroke="#aaa" stroke-width="0.7"/>
<line x1="446.6" y1="352.3" x2="446.6" y2="333" stroke="#aaa" stroke-width="0.7"/>
<line x1="475.6" y1="352.3" x2="475.6" y2="334" stroke="#aaa" stroke-width="0.7"/>
<line x1="425.5" y1="352.3" x2="425.5" y2="346" stroke="#aaa" stroke-width="0.7"/>
<line x1="433" y1="352.3" x2="433" y2="349" stroke="#aaa" stroke-width="0.7"/>
<line x1="452" y1="352.3" x2="452" y2="349.5" stroke="#aaa" stroke-width="0.7"/>
<line x1="466" y1="352.3" x2="466" y2="349" stroke="#aaa" stroke-width="0.7"/>
<line x1="497" y1="352.3" x2="497" y2="349.5" stroke="#aaa" stroke-width="0.7"/>
<line x1="502" y1="352.3" x2="502" y2="350" stroke="#aaa" stroke-width="0.7"/>
<path d="M301.00,352.30V351.44M306.71,352.30V350.78M310.50,352.30V351.59M314.66,352.30V351.74M316.37,352.30V351.30M321.61,352.30V350.49M322.58,352.30V351.43M323.54,352.30V351.72M324.86,352.30V351.45M328.49,352.30V349.05M330.68,352.30V350.27M335.87,352.30V351.40M338.59,352.30V350.13M340.36,352.30V350.84M342.12,352.30V350.61M345.79,352.30V351.70M353.19,352.30V351.54M355.75,352.30V351.66M360.02,352.30V351.43M363.72,352.30V350.96M365.39,352.30V350.42M370.29,352.30V350.83M380.55,352.30V347.32M381.55,352.30V350.55M383.42,352.30V349.60M386.56,352.30V351.02M387.50,352.30V350.30M393.99,352.30V351.48M399.26,352.30V350.30M401.32,352.30V350.61M402.51,352.30V351.14M404.11,352.30V351.66M405.05,352.30V347.90M405.88,352.30V351.16M406.75,352.30V348.22M411.41,352.30V349.37M414.85,352.30V349.33M419.92,352.30V351.16M421.07,352.30V351.50M424.94,352.30V351.32M433.10,352.30V348.96M437.91,352.30V351.50M438.80,352.30V351.17M440.79,352.30V350.99M449.05,352.30V351.57M452.10,352.30V351.21M455.24,352.30V351.65M460.01,352.30V349.84M464.66,352.30V351.61M465.52,352.30V351.49M467.36,352.30V351.08M468.62,352.30V349.31M473.08,352.30V350.98M474.12,352.30V350.39M475.80,352.30V351.50M485.92,352.30V350.52M494.53,352.30V351.70M495.88,352.30V351.31M497.90,352.30V351.43M499.76,352.30V351.15M503.35,352.30V350.58" stroke="#999" stroke-width="0.5" fill="none"/>
<line x1="299.5" y1="352.0" x2="517.5" y2="352.0" stroke="#666" stroke-width="0.6"/>
<line x1="299.5" y1="230.6" x2="503" y2="230.6" stroke="#555" stroke-width="1.25"/>
<circle cx="308.70" cy="230.6" r="1.25" fill="#222"/>
<circle cx="312.50" cy="230.6" r="1.25" fill="#222"/>
<circle cx="334.60" cy="230.6" r="1.25" fill="#222"/>
<circle cx="338.40" cy="230.6" r="1.25" fill="#222"/>
<circle cx="357.00" cy="230.6" r="1.25" fill="#222"/>
<circle cx="360.80" cy="230.6" r="1.25" fill="#222"/>
<circle cx="379.10" cy="230.6" r="1.25" fill="#222"/>
<circle cx="382.90" cy="230.6" r="1.25" fill="#222"/>
<circle cx="411.50" cy="230.6" r="1.25" fill="#222"/>
<circle cx="415.30" cy="230.6" r="1.25" fill="#222"/>
<circle cx="443.70" cy="230.6" r="1.25" fill="#222"/>
<circle cx="447.50" cy="230.6" r="1.25" fill="#222"/>
<circle cx="473.10" cy="230.6" r="1.25" fill="#222"/>
<circle cx="476.90" cy="230.6" r="1.25" fill="#222"/>
<circle cx="490.30" cy="230.6" r="1.25" fill="#222"/>
<circle cx="494.10" cy="230.6" r="1.25" fill="#222"/>
<circle cx="503" cy="230.6" r="1.25" fill="#222"/>
<text x="304.50" y="228.50" font-size="6.5" font-weight="bold" text-anchor="middle" fill="#000" stroke="#000" >KA</text>
<text x="323.80" y="228.50" font-size="6.5" font-weight="bold" text-anchor="middle" fill="#000" stroke="#000" >M</text>
<text x="347.60" y="228.50" font-size="6.5" font-weight="bold" text-anchor="middle" fill="#000" stroke="#000" >I</text>
<text x="369.60" y="228.50" font-size="6.5" font-weight="bold" text-anchor="middle" fill="#000" stroke="#000" >L</text>
<text x="397.30" y="228.50" font-size="6.5" font-weight="bold" text-anchor="middle" fill="#000" stroke="#000" >Y</text>
<text x="429.60" y="228.50" font-size="6.5" font-weight="bold" text-anchor="middle" fill="#000" stroke="#000" >Y</text>
<text x="460.80" y="228.50" font-size="6.5" font-weight="bold" text-anchor="middle" fill="#000" stroke="#000" >F</text>
<text x="483.50" y="228.50" font-size="6.5" font-weight="bold" text-anchor="middle" fill="#000" stroke="#000" >S</text>
<text x="497.70" y="228.50" font-size="6.5" font-weight="bold" text-anchor="middle" fill="#000" stroke="#000" >L</text>
<line x1="310.4" y1="352.3" x2="310.4" y2="337.5" stroke="#666" stroke-width="0.85"/>
<text x="310.55" y="337.00" font-size="4.9" text-anchor="middle" fill="#222">218.1</text>
<text stroke="#222" style="stroke-width:0.1px" fill="#222" x="308.20" y="328.90" font-size="6.4" font-style="italic">y<tspan font-size="4.2" dy="1.3">2</tspan></text>
<line x1="310.4" y1="221.3" x2="310.4" y2="324.70" stroke="#555" stroke-width="0.7" stroke-dasharray="0.8 0.9"/>
<line x1="328.6" y1="352.3" x2="328.6" y2="332.5" stroke="#888" stroke-width="0.85"/>
<text x="328.85" y="331.80" font-size="4.9" text-anchor="middle" fill="#222">311.1</text>
<line x1="336.6" y1="352.3" x2="336.6" y2="317.3" stroke="#555" stroke-width="0.85"/>
<text x="336.50" y="315.50" font-size="4.9" text-anchor="middle" fill="#222">349.1</text>
<text stroke="#222" style="stroke-width:0.1px" fill="#222" x="334.10" y="308.10" font-size="6.4" font-style="italic">y<tspan font-size="4.2" dy="1.3">3</tspan></text>
<line x1="336.6" y1="221.3" x2="336.6" y2="303.90" stroke="#555" stroke-width="0.7" stroke-dasharray="0.8 0.9"/>
<line x1="358.6" y1="352.3" x2="358.6" y2="305.9" stroke="#666" stroke-width="0.85"/>
<text x="358.65" y="304.50" font-size="4.9" text-anchor="middle" fill="#222">462.2</text>
<text stroke="#222" style="stroke-width:0.1px" fill="#222" x="356.00" y="295.80" font-size="6.4" font-style="italic">y<tspan font-size="4.2" dy="1.3">4</tspan></text>
<line x1="358.6" y1="221.3" x2="358.6" y2="291.60" stroke="#555" stroke-width="0.7" stroke-dasharray="0.8 0.9"/>
<line x1="370.9" y1="352.3" x2="370.9" y2="305.9" stroke="#888" stroke-width="0.85"/>
<text x="372.35" y="304.50" font-size="4.9" text-anchor="middle" fill="#222">524.9</text>
<line x1="380.9" y1="352.3" x2="380.9" y2="320.4" stroke="#666" stroke-width="0.85"/>
<text x="381.00" y="318.80" font-size="4.9" text-anchor="middle" fill="#222">575.3</text>
<text stroke="#222" style="stroke-width:0.1px" fill="#222" x="378.60" y="310.40" font-size="6.4" font-style="italic">y<tspan font-size="4.2" dy="1.3">5</tspan></text>
<line x1="380.9" y1="221.3" x2="380.9" y2="306.20" stroke="#555" stroke-width="0.7" stroke-dasharray="0.8 0.9"/>
<line x1="396.9" y1="352.3" x2="396.9" y2="323.2" stroke="#777" stroke-width="0.85"/>
<text x="397.20" y="321.80" font-size="4.9" text-anchor="middle" fill="#222">656.3</text>
<line x1="413.4" y1="352.3" x2="413.4" y2="217.2" stroke="#999" stroke-width="0.85"/>
<text x="413.80" y="215.90" font-size="4.9" text-anchor="middle" fill="#222">738.3</text>
<text stroke="#222" style="stroke-width:0.1px" fill="#222" x="410.50" y="208.90" font-size="6.4" font-style="italic">y<tspan font-size="4.2" dy="1.3">6</tspan></text>
<line x1="413.4" y1="221.3" x2="413.4" y2="204.70" stroke="#555" stroke-width="0.7" stroke-dasharray="0.8 0.9"/>
<line x1="423.0" y1="352.3" x2="423.0" y2="318.5" stroke="#999" stroke-width="0.85"/>
<text x="423.35" y="316.70" font-size="4.9" text-anchor="middle" fill="#222">787.3</text>
<line x1="445.7" y1="352.3" x2="445.7" y2="253.8" stroke="#888" stroke-width="0.85"/>
<text x="445.60" y="252.80" font-size="4.9" text-anchor="middle" fill="#222">901.3</text>
<text stroke="#222" style="stroke-width:0.1px" fill="#222" x="443.40" y="245.80" font-size="6.4" font-style="italic">y<tspan font-size="4.2" dy="1.3">7</tspan></text>
<line x1="445.7" y1="221.3" x2="445.7" y2="241.60" stroke="#555" stroke-width="0.7" stroke-dasharray="0.8 0.9"/>
<line x1="474.8" y1="352.3" x2="474.8" y2="253.2" stroke="#777" stroke-width="0.85"/>
<text x="475.60" y="252.10" font-size="4.9" text-anchor="middle" fill="#222">1048.4</text>
<text stroke="#222" style="stroke-width:0.1px" fill="#222" x="472.50" y="245.40" font-size="6.4" font-style="italic">y<tspan font-size="4.2" dy="1.3">8</tspan></text>
<line x1="474.8" y1="221.3" x2="474.8" y2="241.20" stroke="#555" stroke-width="0.7" stroke-dasharray="0.8 0.9"/>
<line x1="492.1" y1="352.3" x2="492.1" y2="318.8" stroke="#555" stroke-width="0.85"/>
<text x="493.05" y="316.30" font-size="4.9" text-anchor="middle" fill="#222">1135.4</text>
<text stroke="#222" style="stroke-width:0.1px" fill="#222" x="489.40" y="309.50" font-size="6.4" font-style="italic">y<tspan font-size="4.2" dy="1.3">9</tspan></text>
<line x1="492.1" y1="221.3" x2="492.1" y2="305.30" stroke="#555" stroke-width="0.7" stroke-dasharray="0.8 0.9"/>
<line x1="445.7" y1="352.3" x2="445.7" y2="276" stroke="#555" stroke-width="1"/>
<line x1="474.8" y1="352.3" x2="474.8" y2="292" stroke="#555" stroke-width="1"/>
<line x1="413.4" y1="352.3" x2="413.4" y2="271" stroke="#555" stroke-width="1"/>
<line x1="474.8" y1="352.3" x2="474.8" y2="329" stroke="#333" stroke-width="1"/>
<line x1="413.4" y1="352.3" x2="413.4" y2="300" stroke="#444" stroke-width="1"/>
<line x1="358.6" y1="352.3" x2="358.6" y2="333" stroke="#555" stroke-width="0.85"/>
<line x1="370.9" y1="352.3" x2="370.9" y2="338" stroke="#555" stroke-width="0.85"/>
<line x1="396.9" y1="352.3" x2="396.9" y2="336" stroke="#555" stroke-width="0.85"/>
<line x1="380.9" y1="352.3" x2="380.9" y2="340" stroke="#555" stroke-width="0.85"/>
<line x1="336.6" y1="352.3" x2="336.6" y2="344" stroke="#555" stroke-width="0.85"/>
<line x1="328.6" y1="352.3" x2="328.6" y2="341" stroke="#555" stroke-width="0.85"/>
<line x1="492.1" y1="352.3" x2="492.1" y2="336" stroke="#555" stroke-width="0.85"/>
<line x1="310.4" y1="352.3" x2="310.4" y2="344" stroke="#555" stroke-width="0.85"/>
</svg></body></html>
